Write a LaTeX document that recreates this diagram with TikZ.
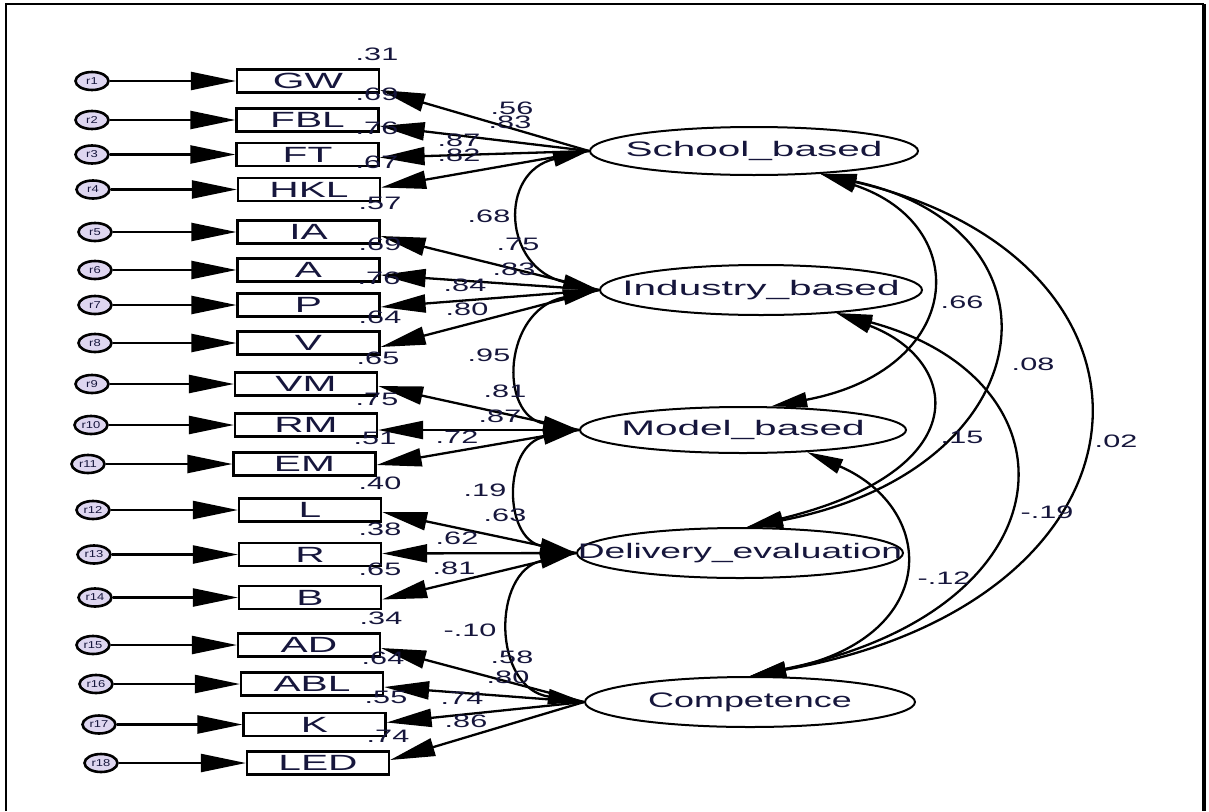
\documentclass[tikz,border=0pt]{standalone}
\usepackage{fontspec}
\setmainfont{Liberation Sans}
\newfontfamily\numf[FakeStretch=1.7]{Liberation Sans}
\newfontfamily\indf[FakeStretch=1.85]{Liberation Sans}
\newfontfamily\latf[FakeStretch=1.93]{Liberation Sans}
\newfontfamily\latd[FakeStretch=1.77]{Liberation Sans}
\newfontfamily\latc[FakeStretch=1.71]{Liberation Sans}
\newfontfamily\errf[FakeStretch=1.3]{Liberation Sans}
\usetikzlibrary{arrows.meta,shapes.geometric,calc}
\definecolor{txt}{RGB}{22,22,60}
\definecolor{errfill}{RGB}{222,214,240}
\begin{document}
\begin{tikzpicture}[x=1pt,y=-1pt,
  ind/.style={draw, line width=2.2pt, rectangle, minimum width=142pt, minimum height=23pt, inner sep=0pt, font=\indf\fontsize{22}{22}\selectfont, text=txt},
  lat/.style={draw, line width=2pt, ellipse, inner sep=0pt, text=txt},
  err/.style={draw, line width=2.6pt, ellipse, fill=errfill, minimum width=33pt, minimum height=18pt, inner sep=0pt, font=\errf\fontsize{10}{10}\selectfont, text=txt},
  num/.style={font=\numf\fontsize{18}{18}\selectfont, text=txt, inner sep=0pt},
  hd/.style={line width=2.3pt, -{Triangle[length=45pt,width=18pt]}},
  cov/.style={line width=2.3pt, {Triangle[length=36pt,width=15pt]}-{Triangle[length=36pt,width=15pt]}},
]
\useasboundingbox (0,0) rectangle (1209,811);
\fill[white] (0,0) rectangle (1209,811);
% frame
\draw[line width=2.4pt] (6,811) -- (6,4) -- (1204,4);
\draw[line width=3.4pt] (1204,4) -- (1204,811);

% indicators
\node[ind] (GW) at (308,81) {GW};
\node[ind] (FBL) at (307.5,120) {FBL};
\node[ind] (FT) at (307.5,154.5) {FT};
\node[ind] (HKL) at (309,189.5) {HKL};
\node[ind] (IA) at (308.5,232) {IA};
\node[ind] (A) at (308.5,270) {A};
\node[ind] (P) at (308.5,305) {P};
\node[ind] (V) at (308.5,343) {V};
\node[ind] (VM) at (306,384) {VM};
\node[ind] (RM) at (306,425) {RM};
\node[ind] (EM) at (304.5,464) {EM};
\node[ind] (L) at (310,510) {L};
\node[ind] (R) at (310,554.5) {R};
\node[ind] (B) at (310,597.5) {B};
\node[ind] (AD) at (309,645) {AD};
\node[ind] (ABL) at (312,684) {ABL};
\node[ind] (K) at (314.5,724.5) {K};
\node[ind] (LED) at (318,763) {LED};

% error terms
\node[err] (e1) at (92,81) {r1};
\node[err] (e2) at (92,120) {r2};
\node[err] (e3) at (92,154.5) {r3};
\node[err] (e4) at (93,189.5) {r4};
\node[err] (e5) at (95,232) {r5};
\node[err] (e6) at (95,270) {r6};
\node[err] (e7) at (95,305) {r7};
\node[err] (e8) at (95,343) {r8};
\node[err] (e9) at (92,384) {r9};
\node[err] (e10) at (91,425) {r10};
\node[err] (e11) at (88,464) {r11};
\node[err] (e12) at (93,510) {r12};
\node[err] (e13) at (94,554.5) {r13};
\node[err] (e14) at (95,597.5) {r14};
\node[err] (e15) at (93,645) {r15};
\node[err] (e16) at (96,684) {r16};
\node[err] (e17) at (99,724.5) {r17};
\node[err] (e18) at (101,763) {r18};

\foreach \e/\b in {e1/GW,e2/FBL,e3/FT,e4/HKL,e5/IA,e6/A,e7/P,e8/V,e9/VM,e10/RM,e11/EM,e12/L,e13/R,e14/B,e15/AD,e16/ABL,e17/K,e18/LED}
  \draw[hd] (\e) -- (\b);

% latent variables
\node[lat, minimum width=328pt, minimum height=48pt, font=\latf\fontsize{21}{21}\selectfont] (School) at (754,151) {\makebox[0pt]{School\_based}};
\node[lat, minimum width=322pt, minimum height=50pt, font=\latf\fontsize{21}{21}\selectfont] (Industry) at (761,290) {\makebox[0pt]{Industry\_based}};
\node[lat, minimum width=326pt, minimum height=46pt, font=\latf\fontsize{21}{21}\selectfont] (Model) at (743,430) {\makebox[0pt]{Model\_based}};
\node[lat, minimum width=326pt, minimum height=50pt, font=\latd\fontsize{21}{21}\selectfont] (Delivery) at (740,553) {\makebox[0pt]{Delivery\_evaluation}};
\node[lat, minimum width=330pt, minimum height=50pt, font=\latc\fontsize{21}{21}\selectfont] (Competence) at (750,702) {\makebox[0pt]{Competence}};

% loadings
\draw[hd] (School.west) -- ([yshift=-9pt]GW.east);
\draw[hd] (School.west) -- ([yshift=-6pt]FBL.east);
\draw[hd] (School.west) -- ([yshift=-3pt]FT.east);
\draw[hd] (School.west) -- ([yshift=2pt]HKL.east);
\draw[hd] (Industry.west) -- ([yshift=-4pt]IA.east);
\draw[hd] (Industry.west) -- ([yshift=-5pt]A.east);
\draw[hd] (Industry.west) -- ([yshift=-2pt]P.east);
\draw[hd] (Industry.west) -- ([yshift=-4pt]V.east);
\draw[hd] (Model.west) -- ([yshift=-2pt]VM.east);
\draw[hd] (Model.west) -- ([yshift=-5pt]RM.east);
\draw[hd] (Model.west) -- ([yshift=-1pt]EM.east);
\draw[hd] (Delivery.west) -- ([yshift=-2pt]L.east);
\draw[hd] (Delivery.west) -- ([yshift=1pt]R.east);
\draw[hd] (Delivery.west) -- ([yshift=-2pt]B.east);
\draw[hd] (Competence.west) -- ([yshift=-3pt]AD.east);
\draw[hd] (Competence.west) -- ([yshift=-3pt]ABL.east);
\draw[hd] (Competence.west) -- ([yshift=2pt]K.east);
\draw[hd] (Competence.west) -- ([yshift=3pt]LED.east);

% covariances left
\draw[cov] (School.west) .. controls (498,172) and (503,268) .. (Industry.west);
\draw[cov] (Industry.west) .. controls (503,310) and (498,415) .. (Model.west);
\draw[cov] (Model.west) .. controls (503,445) and (503,538) .. (Delivery.west);
\draw[cov] (Delivery.west) .. controls (492,572) and (492,688) .. (Competence.west);

% covariances right
\draw[cov] (School.-19) .. controls (975,225) and (965,370) .. (Model.40);
\draw[cov] (School.-19) .. controls (1075,230) and (1045,470) .. (Delivery.75);
\draw[cov] (School.-19) .. controls (1190,260) and (1175,600) .. (Competence.90);
\draw[cov] (Industry.-17) .. controls (960,360) and (980,470) .. (Delivery.75);
\draw[cov] (Industry.-17) .. controls (1085,380) and (1075,610) .. (Competence.90);
\draw[cov] (Model.-19) .. controls (940,510) and (940,640) .. (Competence.90);

% R-squared labels
\node[num] (s1) at (377,54) {.31};
\node[num] (s2) at (377,94) {.69};
\node[num] (s3) at (377,128) {.76};
\node[num] (s4) at (377,162) {.67};
\node[num] (s5) at (380,203) {.57};
\node[num] (s6) at (380,244) {.69};
\node[num] (s7) at (379,278) {.76};
\node[num] (s8) at (380,317) {.64};
\node[num] (s9) at (378,358) {.65};
\node[num] (s10) at (377,399) {.75};
\node[num] (s11) at (375,438) {.51};
\node[num] (s12) at (380,483) {.40};
\node[num] (s13) at (380,529) {.38};
\node[num] (s14) at (380,569) {.65};
\node[num] (s15) at (381,618) {.34};
\node[num] (s16) at (383,658) {.64};
\node[num] (s17) at (386,697) {.55};
\node[num] (s18) at (388,736) {.74};

% loading labels
\node[num] (l1) at (512,108) {.56};
\node[num] (l2) at (510,122) {.83};
\node[num] (l3) at (459,140) {.87};
\node[num] (l4) at (459,155) {.82};
\node[num] (l5) at (518,244) {.75};
\node[num] (l6) at (514,269) {.83};
\node[num] (l7) at (465,285) {.84};
\node[num] (l8) at (467,309) {.80};
\node[num] (l9) at (505,391) {.81};
\node[num] (l10) at (500,416) {.87};
\node[num] (l11) at (457,437) {.72};
\node[num] (l12) at (505,515) {.63};
\node[num] (l13) at (457,538) {.62};
\node[num] (l14) at (454,568) {.81};
\node[num] (l15) at (512,657) {.58};
\node[num] (l16) at (508,677) {.80};
\node[num] (l17) at (462,698) {.74};
\node[num] (l18) at (466,721) {.86};

% covariance labels
\node[num] (c1) at (489,216) {.68};
\node[num] (c2) at (489,355) {.95};
\node[num] (c3) at (485,490) {.19};
\node[num] (c4) at (470,630) {-.10};
\node[num] (c5) at (962,302) {.66};
\node[num] (c6) at (1033,364) {.08};
\node[num] (c7) at (962,437) {.15};
\node[num] (c8) at (1116,441) {.02};
\node[num] (c9) at (1047,512) {-.19};
\node[num] (c10) at (944,578) {-.12};
\end{tikzpicture}
\end{document}
